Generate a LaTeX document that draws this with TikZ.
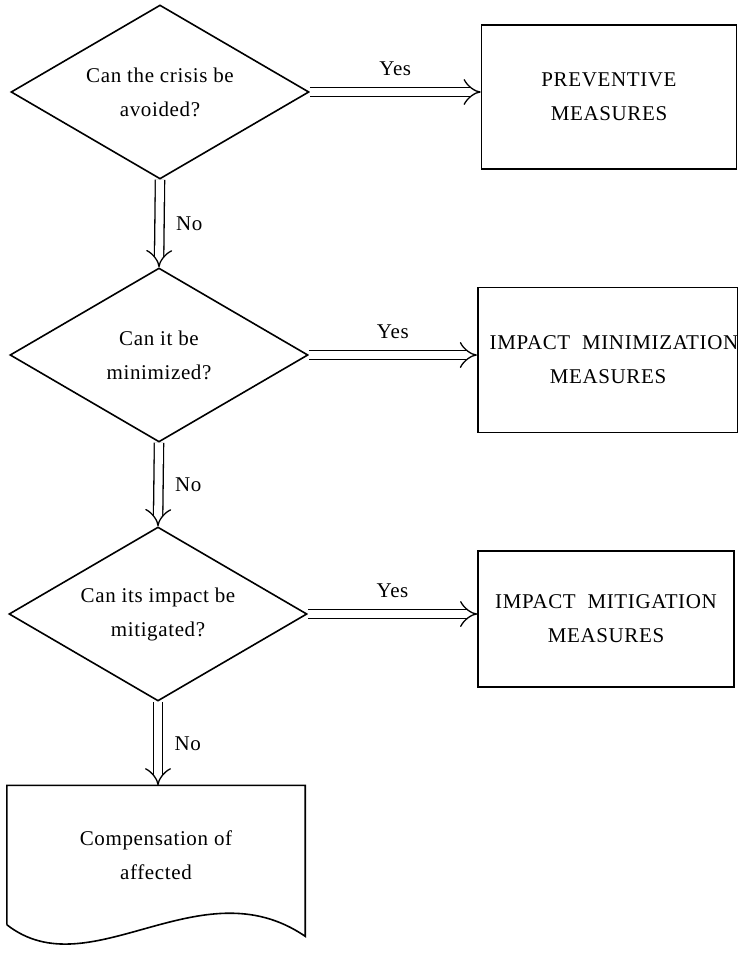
\documentclass[tikz,border=0pt]{standalone}
\usepackage{fontspec}
\setmainfont{Liberation Serif}[LetterSpace=3]
\usetikzlibrary{
	arrows.meta,
	shapes.geometric
}
\tikzset{
	>={Implies},
	flowtext/.style={font=\fontsize{21}{34}\selectfont, align=center},
	decision/.style={diamond, draw, line width=1.6pt, flowtext,
		shape aspect=1.71, minimum width=298pt, minimum height=174pt,
		inner sep=0pt},
	action/.style={rectangle, draw, line width=1.6pt, flowtext,
		minimum width=255pt, inner sep=0pt},
	flowarrow/.style={draw, ->, double, double distance=8pt, line width=1.3pt},
	answer/.style={flowtext, inner sep=2pt}
}

\begin{document}
\begin{tikzpicture}[x=1pt, y=-1pt]
	\useasboundingbox (0,0) rectangle (737,957);

	\node[decision] (q1) at (160,92) {Can the crisis be\\avoided?};
	\node[decision] (q2) at (159,355) {Can it be\\minimized?};
	\node[decision] (q3) at (158,614) {Can its impact be\\mitigated?};

	\node[action, minimum height=144pt] (m1) at (609,97) {PREVENTIVE\\MEASURES};
	\node[action, minimum height=145pt, minimum width=256pt] (m2) at (608,360)
		{\hspace*{12pt}IMPACT~~MINIMIZATION\\MEASURES};
	\node[action, minimum height=136pt, minimum width=256pt] (m3) at (606,619)
		{IMPACT~~MITIGATION\\MEASURES};

	\node[flowtext, minimum width=298pt, minimum height=139pt, inner sep=0pt]
		(comp) at (156,855) {Compensation of\\affected};
	\draw[line width=1.6pt] (comp.south west) -- (comp.north west)
		-- (comp.north east) -- ++(0,151)
		.. controls +(-105,-72) and +(83,65) .. (comp.south west);

	\path
		(q1.east) edge[flowarrow] node[answer, above=14pt] {Yes} (q1.east -| m1.west)
		(q2.east) edge[flowarrow] node[answer, above=14pt] {Yes} (q2.east -| m2.west)
		(q3.east) edge[flowarrow] node[answer, above=14pt] {Yes} (q3.east -| m3.west)
	;

	\path
		(q1.south) edge[flowarrow] node[answer, right=14pt] {No} (q2.north)
		(q2.south) edge[flowarrow] node[answer, right=14pt] {No} (q3.north)
		(q3.south) edge[flowarrow] node[answer, right=14pt] {No} (q3.south |- comp.north)
	;
\end{tikzpicture}
\end{document}
